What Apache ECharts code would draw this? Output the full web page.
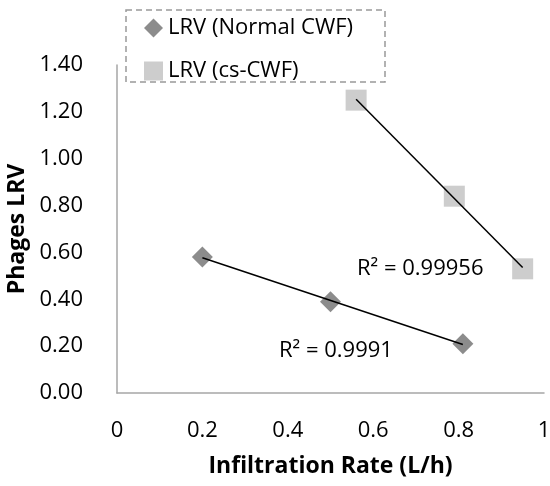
<!DOCTYPE html>
<html lang="en" style="height: 100%">
<head>
    <meta charset="UTF-8">
    <title>Phages LRV vs infiltration rate</title>
    <script src="https://cdn.jsdelivr.net/npm/echarts@6/dist/echarts.min.js"></script>
</head>
<body style="height: 100%; margin: 0">
<div id="main" style="width: 550px; height: 486px"></div>
<script>
    // data
    var normalX = [0.2, 0.5, 0.81];
    var normalY = [0.58, 0.39, 0.21];
    var csX = [0.56, 0.79, 0.95];
    var csY = [1.25, 0.84, 0.53];
    var r2Normal = 'R² = 0.9991';
    var r2Cs = 'R² = 0.99956';

    var font = 'Open Sans';
    var fs = 22;

    function pairs(xs, ys) {
        return xs.map(function (x, i) { return [x, ys[i]]; });
    }

    // least squares line over the data range
    function trend(xs, ys) {
        var n = xs.length, sx = 0, sy = 0, sxx = 0, sxy = 0;
        for (var i = 0; i < n; i++) {
            sx += xs[i]; sy += ys[i]; sxx += xs[i] * xs[i]; sxy += xs[i] * ys[i];
        }
        var b = (n * sxy - sx * sy) / (n * sxx - sx * sx);
        var a = (sy - b * sx) / n;
        var x0 = Math.min.apply(null, xs), x1 = Math.max.apply(null, xs);
        return [[x0, a + b * x0], [x1, a + b * x1]];
    }

    var myChart = echarts.init(document.getElementById('main'));
    var option = {
        animation: false,
        textStyle: {fontFamily: font},
        grid: {left: 117, right: 6, top: 65, bottom: 93, outerBoundsMode: 'none'},
        legend: {
            orient: 'vertical',
            left: 144,
            top: 16,
            padding: 0,
            itemWidth: 19,
            itemHeight: 19,
            itemGap: 19,
            textStyle: {fontSize: fs, lineHeight: 24, color: '#000', fontFamily: font},
            data: ['LRV (Normal CWF)', 'LRV (cs-CWF)']
        },
        graphic: [
            {
                type: 'rect',
                shape: {x: 126, y: 10, width: 259, height: 72},
                style: {fill: 'none', stroke: '#999', lineWidth: 1.5, lineDash: [6, 4]},
                z: 10
            },
            {
                type: 'text', left: 279, top: 340,
                style: {text: r2Normal, fontSize: fs, fontFamily: font, fill: '#000'}
            },
            {
                type: 'text', left: 357, top: 258,
                style: {text: r2Cs, fontSize: fs, fontFamily: font, fill: '#000'}
            }
        ],
        xAxis: {
            type: 'value',
            min: 0, max: 1, interval: 0.2,
            name: 'Infiltration Rate (L/h)',
            nameLocation: 'middle',
            nameGap: 62,
            nameTextStyle: {fontSize: 23, fontWeight: 'bold', color: '#000', fontFamily: font},
            axisLine: {show: true, lineStyle: {color: '#a6a6a6', width: 1.5}},
            axisTick: {show: false},
            splitLine: {show: false},
            axisLabel: {
                fontSize: fs, color: '#000', margin: 27,
                formatter: function (v) { return String(+v.toFixed(1)); }
            }
        },
        yAxis: {
            type: 'value',
            min: 0, max: 1.4, interval: 0.2,
            name: 'Phages LRV',
            nameLocation: 'middle',
            nameRotate: 90,
            nameGap: 79,
            nameTextStyle: {fontSize: 23, fontWeight: 'bold', color: '#000', fontFamily: font},
            axisLine: {show: true, lineStyle: {color: '#a6a6a6', width: 1.5}},
            axisTick: {show: false},
            splitLine: {show: false},
            axisLabel: {
                fontSize: fs, color: '#000', margin: 34,
                formatter: function (v) { return v.toFixed(2); }
            }
        },
        series: [
            {
                name: 'LRV (Normal CWF)',
                type: 'scatter',
                symbol: 'diamond',
                symbolSize: 21,
                itemStyle: {color: '#6f6f6f'},
                data: pairs(normalX, normalY),
                z: 3
            },
            {
                name: 'LRV (cs-CWF)',
                type: 'scatter',
                symbol: 'rect',
                symbolSize: 21,
                itemStyle: {color: '#c0c0c0'},
                data: pairs(csX, csY),
                z: 3
            },
            {
                name: 'trend normal',
                type: 'line',
                data: trend(normalX, normalY),
                symbol: 'none',
                lineStyle: {color: '#000', width: 1.5},
                z: 4
            },
            {
                name: 'trend cs',
                type: 'line',
                data: trend(csX, csY),
                symbol: 'none',
                lineStyle: {color: '#000', width: 1.5},
                z: 4
            }
        ]
    };
    myChart.setOption(option);
</script>
</body>
</html>
